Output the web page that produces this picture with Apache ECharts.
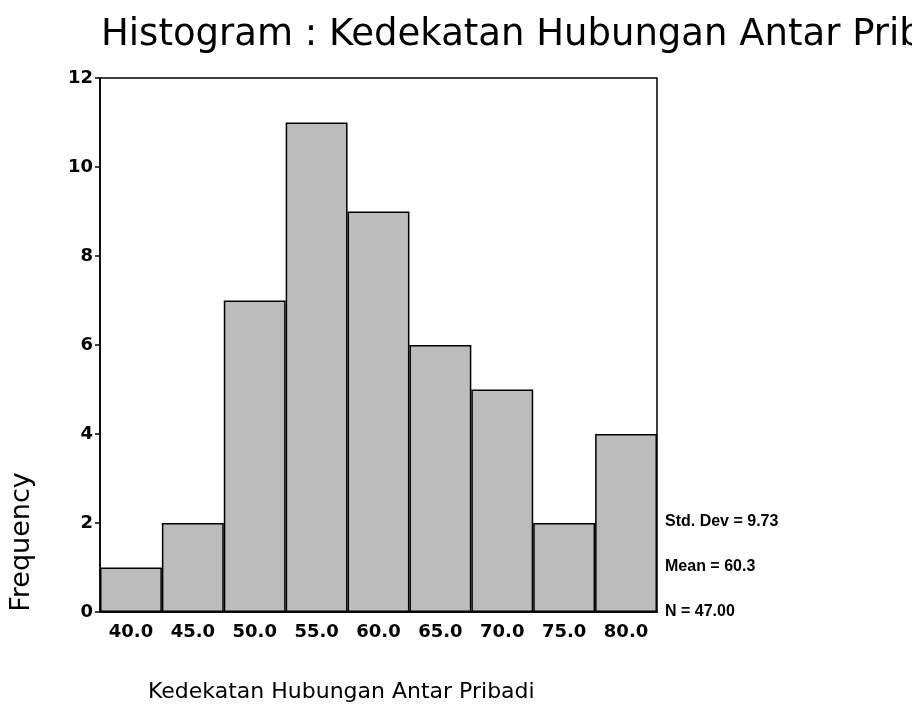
<!DOCTYPE html>
<html><head><meta charset="utf-8">
<script src="https://cdn.jsdelivr.net/npm/echarts@6/dist/echarts.min.js"></script>
<style>html,body{margin:0;padding:0;background:#fff}#c{width:912px;height:721px}</style>
</head><body><div id="c"></div>
<script>
var categories = ['40.0','45.0','50.0','55.0','60.0','65.0','70.0','75.0','80.0'];
var frequency = [1, 2, 7, 11, 9, 6, 5, 2, 4];
var yTicks = [0, 2, 4, 6, 8, 10, 12];
var stats = ['Std. Dev = 9.73', 'Mean = 60.3', 'N = 47.00'];
var titleText = 'Histogram : Kedekatan Hubungan Antar Pribadi';
var xName = 'Kedekatan Hubungan Antar Pribadi';
var yName = 'Frequency';

var font = '"DejaVu Sans", sans-serif';
var fontNarrow = '"Liberation Sans", Arial, sans-serif';
var chart = echarts.init(document.getElementById('c'), null, {renderer: 'canvas'});
var statTop = [522, 567, 612];
chart.setOption({
  backgroundColor: '#fff',
  animation: false,
  title: {text: titleText, left: 96, top: 12, textStyle: {fontFamily: font, fontSize: 37, fontWeight: 'normal', color: '#000'}},
  grid: {left: 100, right: 255, top: 78, bottom: 109, show: true, borderColor: '#000', borderWidth: 1.5, backgroundColor: 'transparent'},
  xAxis: {
    type: 'category', data: categories,
    name: xName, nameLocation: 'start', nameGap: 0,
    nameTextStyle: {fontFamily: font, fontSize: 22, color: '#000', align: 'left', verticalAlign: 'top', padding: [69, 0, 0, 48]},
    axisLine: {lineStyle: {color: '#000', width: 1.5}},
    axisTick: {alignWithLabel: true, length: 5, lineStyle: {color: '#000', width: 1.5}},
    axisLabel: {fontFamily: font, fontSize: 18, fontWeight: 'bold', color: '#000', margin: 11}
  },
  yAxis: {
    type: 'value', min: yTicks[0], max: yTicks[yTicks.length-1], interval: 2,
    axisLine: {show: true, lineStyle: {color: '#000', width: 1.5}},
    axisTick: {show: true, length: 5, lineStyle: {color: '#000', width: 1.5}},
    splitLine: {show: false},
    axisLabel: {fontFamily: font, fontSize: 18, fontWeight: 'bold', color: '#000', margin: 7}
  },
  series: [{
    type: 'bar', data: frequency, barCategoryGap: '0%',
    itemStyle: {color: '#bcbcbc', borderColor: '#000', borderWidth: 1.5}
  }],
  graphic: stats.map(function(s, i){
    return {type: 'text', x: 665, y: statTop[i], style: {text: s, fontFamily: fontNarrow, fontSize: 16, fontWeight: 'bold', fill: '#000', verticalAlign: 'middle'}};
  }).concat([{
    type: 'text', x: 22, y: 542, rotation: Math.PI / 2,
    style: {text: yName, fontFamily: font, fontSize: 27, fill: '#000', align: 'center', verticalAlign: 'middle'}
  }])
});
</script></body></html>
